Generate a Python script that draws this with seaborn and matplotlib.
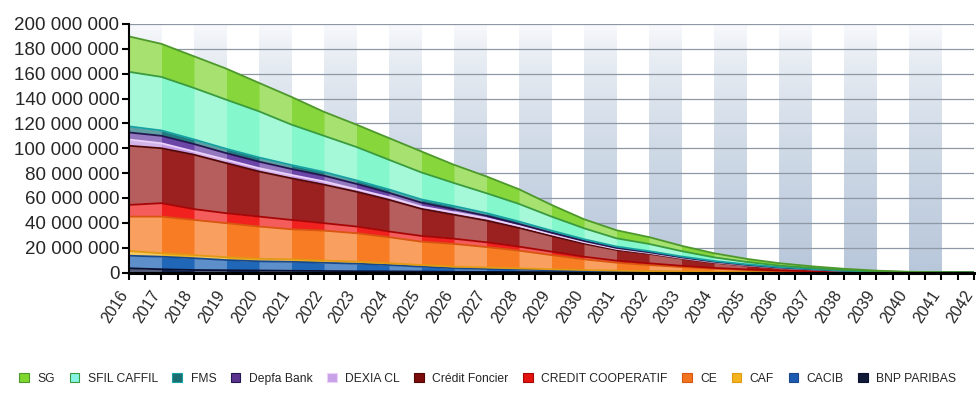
import numpy as np
import pandas as pd
import matplotlib
matplotlib.use("Agg")
import matplotlib.pyplot as plt
from matplotlib.patches import Patch
from matplotlib.ticker import FuncFormatter, MultipleLocator
from matplotlib.transforms import ScaledTranslation
import seaborn as sns

# Outstanding amounts per counterparty, in millions of euros
years = list(range(2016, 2043))
UNIT = 1_000_000

bnp_paribas = [3.4, 2.6, 2.0, 1.8, 1.6, 1.4, 1.2, 1.0, 0.9, 0.8, 0.6, 0.5, 0.4, 0.3,
               0.25, 0.2, 0.15, 0.1, 0.08, 0.05, 0.03, 0.02, 0.01, 0.0, 0.0, 0.0, 0.0]
cacib = [10.1, 10.1, 9.5, 8.2, 7.4, 7.2, 6.6, 6.1, 5.1, 3.9, 2.8, 2.3, 1.9, 1.5,
         1.05, 0.8, 0.55, 0.4, 0.27, 0.2, 0.12, 0.08, 0.04, 0.02, 0.01, 0.0, 0.0]
caf = [3.8, 2.8, 2.4, 2.3, 2.0, 2.0, 1.8, 1.6, 1.4, 1.3, 1.3, 1.2, 1.0, 0.8,
       0.7, 0.5, 0.4, 0.3, 0.2, 0.15, 0.1, 0.05, 0.03, 0.01, 0.0, 0.0, 0.0]
ce = [27.7, 29.5, 28.4, 27.4, 26.0, 24.2, 24.1, 22.9, 21.0, 18.8, 18.3, 16.5, 14.3, 11.4,
      8.6, 6.4, 4.9, 3.6, 2.45, 1.6, 1.05, 0.65, 0.32, 0.12, 0.04, 0.01, 0.0]
credit_cooperatif = [9.4, 10.8, 8.7, 8.0, 8.0, 7.5, 6.0, 5.4, 4.6, 4.6, 4.2, 3.8, 3.2, 2.8,
                     2.1, 1.6, 1.4, 1.0, 0.7, 0.5, 0.3, 0.2, 0.1, 0.05, 0.02, 0.01, 0.0]
credit_foncier = [47.6, 44.2, 43.8, 40.3, 36.3, 33.5, 31.0, 28.0, 25.5, 21.8, 19.3, 17.5, 15.1, 12.6,
                  10.5, 8.6, 7.6, 5.8, 4.2, 3.0, 2.0, 1.3, 0.6, 0.25, 0.08, 0.03, 0.0]
dexia_cl = [5.0, 4.0, 2.6, 2.7, 2.7, 2.7, 2.6, 2.0, 2.1, 1.8, 1.9, 1.9, 1.6, 1.4,
            1.2, 0.9, 0.7, 0.5, 0.4, 0.3, 0.2, 0.15, 0.1, 0.05, 0.02, 0.01, 0.0]
depfa_bank = [5.7, 6.0, 6.0, 5.3, 5.2, 4.8, 4.6, 4.3, 3.5, 3.2, 2.6, 1.9, 1.5, 1.2,
              1.0, 0.8, 0.6, 0.5, 0.4, 0.3, 0.2, 0.15, 0.1, 0.05, 0.02, 0.01, 0.0]
fms = [4.9, 4.3, 3.7, 3.5, 3.4, 3.2, 3.0, 2.8, 2.7, 2.6, 2.5, 2.2, 2.0, 1.7,
       1.4, 1.1, 0.9, 0.7, 0.55, 0.45, 0.35, 0.25, 0.15, 0.08, 0.04, 0.01, 0.0]
sfil_caffil = [43.9, 43.1, 41.4, 39.5, 37.1, 32.5, 29.1, 26.9, 23.9, 21.7, 18.5, 16.0, 14.2, 11.3,
               8.8, 6.6, 5.8, 4.3, 2.95, 1.95, 1.25, 0.85, 0.6, 0.32, 0.12, 0.04, 0.0]
sg = [28.5, 26.6, 25.5, 25.0, 22.9, 22.3, 19.3, 18.0, 17.5, 16.9, 14.7, 13.5, 11.8, 9.4,
      7.3, 6.5, 5.5, 4.3, 3.3, 2.5, 1.9, 1.3, 0.95, 0.55, 0.25, 0.08, 0.0]

# Stacking order, bottom to top: (label, values, fill colour, edge line colour, legend colour)
series = [
    ("BNP PARIBAS", bnp_paribas, "#15234b", "#0a1030", "#111a36"),
    ("CACIB", cacib, "#2167b8", "#17488c", "#1c5cb0"),
    ("CAF", caf, "#f2b624", "#e29a12", "#f2b31e"),
    ("CE", ce, "#f77c24", "#d9560f", "#f27420"),
    ("CREDIT COOPERATIF", credit_cooperatif, "#f0211f", "#a80606", "#e3120f"),
    ("Crédit Foncier", credit_foncier, "#9b2121", "#520606", "#7c0b0b"),
    ("DEXIA CL", dexia_cl, "#c49ae6", "#ecd2fa", "#c7a2e6"),
    ("Depfa Bank", depfa_bank, "#6b46a8", "#241650", "#5b3290"),
    ("FMS", fms, "#217c80", "#16a0a2", "#1b6e70"),
    ("SFIL CAFFIL", sfil_caffil, "#84f7cc", "#3a9c3f", "#86f3e4"),
    ("SG", sg, "#87d63b", "#4d982b", "#7fd62f"),
]

df = pd.DataFrame({name: vals for name, vals, *_ in series}, index=years) * UNIT
cum = df.cumsum(axis=1)
total = cum.iloc[:, -1].to_numpy()
x = np.array(years, dtype=float)

sns.set_theme(style="white")
plt.rcParams["font.family"] = ["Liberation Sans", "DejaVu Sans"]

fig = plt.figure(figsize=(9.76, 4.01), dpi=100)
ax = fig.add_axes([129 / 976, 1 - 272.5 / 401, (974 - 129) / 976, (272.5 - 24) / 401])
ax.set_facecolor("white")

YMAX = 200 * UNIT

# Shaded alternate-year columns with a vertical gradient
t = np.linspace(0, 1, 256)[:, None]
top_c = np.array([0.985, 0.988, 0.994])
bot_c = np.array([0.72, 0.78, 0.855])
ramp = (1 - t) ** 0.65
grad = top_c + (bot_c - top_c) * ramp[..., None]
for y0 in range(years[0], years[-1], 2):
    ax.imshow(grad, extent=[y0, y0 + 1, 0, YMAX], origin="lower",
              aspect="auto", zorder=0, interpolation="bilinear")

# Horizontal grid
for gy in range(20, 201, 20):
    ax.axhline(gy * UNIT, color="#8d98a4", lw=0.9, zorder=0.5)

# Stacked areas
lower = np.zeros(len(x))
for name, vals, fill, line, _ in series:
    upper = cum[name].to_numpy()
    ax.fill_between(x, lower, upper, color=fill, lw=0, zorder=2)
    lower = upper

# Lighter tint over the alternate columns inside the stacked area
for i in range(0, len(x) - 1, 2):
    ax.fill_between(x[i:i + 2], 0, total[i:i + 2], color="white", alpha=0.27, lw=0, zorder=3)

# Series edge lines
for name, vals, fill, line, _ in series:
    sns.lineplot(x=x, y=cum[name].to_numpy(), ax=ax, color=line, lw=1.3, zorder=4, legend=False)

ax.set_xlim(years[0], years[-1])
ax.set_ylim(0, YMAX)
ax.set_xlabel("")
ax.set_ylabel("")

ax.yaxis.set_major_locator(MultipleLocator(20 * UNIT))
ax.yaxis.set_major_formatter(FuncFormatter(lambda v, p: f"{int(round(v)):,}".replace(",", " ")))
ax.set_xticks(years)
ax.set_xticks(np.arange(years[0] + 0.5, years[-1], 1.0), minor=True)
ax.tick_params(axis="y", which="major", length=5, width=1.5, color="black",
               labelsize=13.5, pad=2, left=True, direction="out")
ax.tick_params(axis="x", which="both", length=5, width=1.5, color="black",
               bottom=True, direction="out")
ax.tick_params(axis="x", which="major", pad=6)
ax.set_xticklabels([str(y) for y in years], rotation=57, ha="right",
                   rotation_mode="anchor", fontsize=11.5)
shift = ScaledTranslation(-11 / 100, 0, fig.dpi_scale_trans)
for lbl in ax.get_xticklabels():
    lbl.set_transform(lbl.get_transform() + shift)

for side in ("top", "right"):
    ax.spines[side].set_visible(False)
ax.spines["left"].set_color("black")
ax.spines["left"].set_linewidth(1.5)
ax.spines["bottom"].set_color("black")
ax.spines["bottom"].set_linewidth(2.2)
for sp in ax.spines.values():
    sp.set_zorder(6)

handles = [Patch(facecolor=leg, edgecolor=line, linewidth=0.8, label=name)
           for name, vals, fill, line, leg in reversed(series)]
fig.legend(handles=handles, loc="center", bbox_to_anchor=(0.5, 1 - 379 / 401),
           ncol=len(handles), frameon=False, fontsize=8.7,
           handlelength=0.8, handleheight=0.8, handletextpad=0.7,
           columnspacing=1.2, borderaxespad=0)

fig.savefig("out.png", dpi=100)
